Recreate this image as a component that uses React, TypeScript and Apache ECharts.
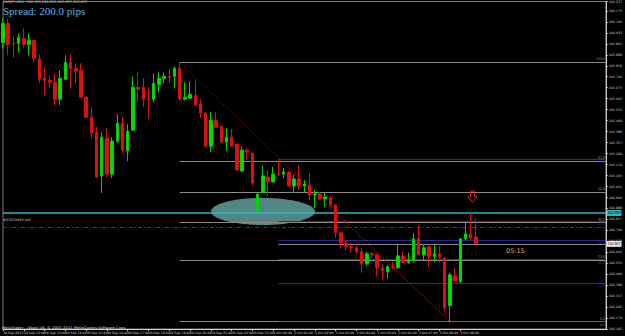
import React, { useEffect, useRef } from "react";
import * as echarts from "echarts";

const opens = [103.970,104.094,103.964,103.964,103.996,103.957,103.983,103.860,103.736,103.723,
103.710,103.600,103.730,103.840,103.801,103.788,103.613,103.483,103.385,103.099,
103.346,103.112,103.327,103.444,103.262,103.398,103.678,103.678,103.600,103.600,
103.697,103.736,103.749,103.749,103.801,103.600,103.606,103.626,103.567,103.509,
103.294,103.463,103.424,103.320,103.353,103.307,103.132,103.268,103.249,102.872,
102.989,103.093,103.060,103.112,103.112,103.125,103.034,103.080,103.034,103.041,
102.976,102.982,102.950,102.956,102.911,102.729,102.664,102.638,102.631,102.605,
102.527,102.592,102.586,102.501,102.475,102.508,102.501,102.579,102.534,102.547,
102.690,102.586,102.638,102.573,102.592,102.566,102.254,102.449,102.410,102.690,
102.722,102.703];

const closes = [104.094,103.957,103.960,104.003,103.957,103.983,103.866,103.730,103.723,103.710,
103.600,103.736,103.840,103.801,103.782,103.613,103.483,103.379,103.093,103.353,
103.112,103.327,103.444,103.268,103.392,103.678,103.665,103.600,103.596,103.704,
103.736,103.749,103.743,103.801,103.600,103.613,103.632,103.561,103.509,103.294,
103.463,103.418,103.320,103.353,103.294,103.138,103.268,103.255,103.054,102.982,
103.099,103.060,103.112,103.106,103.125,103.034,103.080,103.034,103.047,102.976,
102.982,102.950,102.963,102.911,102.729,102.664,102.638,102.631,102.605,102.527,
102.592,102.586,102.501,102.482,102.508,102.504,102.579,102.534,102.553,102.690,
102.586,102.631,102.573,102.592,102.573,102.241,102.456,102.417,102.690,102.722,
102.696,102.657];

const lows = [103.931,103.886,103.873,103.905,103.931,103.886,103.840,103.704,103.626,103.671,
103.561,103.561,103.723,103.671,103.704,103.613,103.476,103.346,103.086,102.989,
103.093,103.086,103.314,103.249,103.197,103.398,103.580,103.548,103.470,103.580,
103.645,103.704,103.704,103.671,103.600,103.593,103.600,103.561,103.476,103.281,
103.255,103.411,103.314,103.262,103.294,103.138,103.125,103.203,103.041,102.872,
102.989,102.969,103.060,103.106,103.086,103.028,102.989,103.008,102.995,102.943,
102.891,102.943,102.898,102.898,102.696,102.631,102.612,102.599,102.592,102.469,
102.514,102.566,102.449,102.423,102.430,102.488,102.495,102.534,102.527,102.534,
102.586,102.553,102.508,102.540,102.534,102.209,102.144,102.404,102.404,102.683,
102.683,102.657];

const highs = [104.126,104.126,104.009,104.029,104.061,104.029,103.983,103.892,103.808,103.756,
103.769,103.788,103.886,103.892,103.834,103.834,103.619,103.548,103.418,103.385,
103.411,103.353,103.502,103.483,103.437,103.749,103.775,103.736,103.678,103.769,
103.775,103.775,103.801,103.814,103.840,103.710,103.717,103.730,103.600,103.515,
103.515,103.515,103.424,103.411,103.405,103.307,103.294,103.281,103.249,102.982,
103.164,103.138,103.158,103.210,103.151,103.132,103.106,103.171,103.073,103.119,
103.008,102.995,102.989,102.969,102.911,102.735,102.683,102.664,102.644,102.631,
102.605,102.605,102.592,102.521,102.521,102.540,102.651,102.605,102.599,102.729,
102.781,102.651,102.644,102.651,102.644,102.566,102.469,102.501,102.696,102.794,
102.859,102.820];

const xLabels = ["30 Sep 2013","30 Sep 12:40","30 Sep 13:40","30 Sep 14:40","30 Sep 15:40",
"30 Sep 16:40","30 Sep 17:40","30 Sep 18:40","30 Sep 19:40","30 Sep 20:40","30 Sep 21:40",
"30 Sep 22:40","30 Sep 23:40","3 Oct 00:40","3 Oct 01:40","3 Oct 02:40","3 Oct 03:40",
"3 Oct 04:40","3 Oct 05:40","3 Oct 06:40","3 Oct 07:40","3 Oct 08:40","3 Oct 09:40"];

const SLOTS = 117; // bars + right chart shift
const fibRatios = [0, 23.6, 38.2, 50, 61.8, 100];
const fib1 = { start: 34, high: 103.840, low: 102.150 };
const fib2 = { start: 53, high: 103.210, low: 102.150 };
const tpLine = 102.858;     // cyan level
const orderLine = 102.768;  // red dash-dot order line
const bidPrice = 102.657;

const App: React.FC = () => {
  const ref = useRef<HTMLDivElement>(null);
  useEffect(() => {
    if (!ref.current) return;
    const chart = echarts.init(ref.current, null, { renderer: "svg" });
    const cats = Array.from({ length: SLOTS }, (_, i) => "c" + i);
    const candles = opens.map((o, i) => [o, closes[i], lows[i], highs[i]]);
    const labelOn = (i: number) => i % 4 === 0 && i / 4 < xLabels.length;
    const fibLines = (f: any, color: string, zeroColor: string, pos: string) =>
      fibRatios.map((r) => {
        const p = f.low + ((f.high - f.low) * r) / 100;
        return [
          {
            coord: [f.start, p],
            lineStyle: { color: r === 0 ? zeroColor : color, width: 1, type: "solid" },
            label: {
              show: true,
              position: pos,
              formatter: r.toFixed(1),
              color: r === 0 ? zeroColor : color,
              fontSize: 3.5,
              distance: 1,
            },
          },
          { coord: [SLOTS - 1, p] },
        ];
      });
    const markData: any[] = [
      ...fibLines(fib1, "#8c8c8c", "#8c8c8c", "insideEndTop"),
      ...fibLines(fib2, "#2c2c86", "#5c5cb8", "insideEndBottom"),
      [
        { coord: [fib1.start, fib1.high], lineStyle: { color: "#b01818", width: 1, type: [1, 2] }, label: { show: false } },
        { coord: [86, fib1.low] },
      ],
      [
        { coord: [fib2.start, fib2.high], lineStyle: { color: "#b01818", width: 1, type: [1, 2] }, label: { show: false } },
        { coord: [86, fib2.low] },
      ],
      [
        { coord: [0, orderLine], lineStyle: { color: "#a01818", width: 1, type: [4, 2, 1, 2] }, label: { show: false } },
        { coord: [SLOTS - 1, orderLine] },
      ],
      [
        {
          coord: [53, bidPrice],
          lineStyle: { color: "#8a8a96", width: 1, type: "solid" },
          label: {
            show: true, position: "end", formatter: bidPrice.toFixed(3), color: "#000",
            backgroundColor: "#e6e6e6", fontSize: 3.5, padding: [1, 1], distance: 1,
          },
        },
        { coord: [SLOTS - 1, bidPrice] },
      ],
      [
        {
          coord: [0, tpLine],
          lineStyle: { color: "#2fb6be", width: 1.6, type: "solid" },
          label: {
            show: true, position: "end", formatter: tpLine.toFixed(3), color: "#000",
            backgroundColor: "#2fb6be", fontSize: 3.5, padding: [1, 1], distance: 1,
          },
        },
        { coord: [SLOTS - 1, tpLine] },
      ],
    ];
    chart.setOption({
      animation: false,
      backgroundColor: "#000",
      grid: { left: 1, right: 13, top: 1, bottom: 7, show: true, borderColor: "#7a7a7a", borderWidth: 1 },
      xAxis: {
        type: "category",
        data: cats,
        boundaryGap: false,
        axisLine: { lineStyle: { color: "#d0d0d0", width: 1 } },
        axisTick: { show: true, interval: (i: number) => labelOn(i), length: 2, lineStyle: { color: "#d0d0d0" } },
        axisLabel: {
          interval: (i: number) => labelOn(i),
          formatter: (_v: string, i: number) => (labelOn(i) ? xLabels[i / 4] : ""),
          align: "left",
          margin: 2,
          fontSize: 3.2,
          color: "#d8d8d8",
          fontFamily: "DejaVu Sans",
        },
        splitLine: { show: false },
      },
      yAxis: {
        type: "value",
        position: "right",
        min: 102.102,
        max: 104.237,
        interval: 0.0715,
        axisLine: { show: true, lineStyle: { color: "#c8c8c8", width: 1 } },
        axisTick: { show: true, length: 2, lineStyle: { color: "#c8c8c8" } },
        axisLabel: {
          margin: 3,
          fontSize: 3.2,
          color: "#d8d8d8",
          fontFamily: "DejaVu Sans",
          formatter: (v: number) => v.toFixed(3),
        },
        splitLine: { show: false },
      },
      series: [
        {
          type: "line",
          data: [],
          z: 1,
          silent: true,
          markLine: { silent: true, symbol: ["none", "none"], animation: false, data: markData },
        },
        {
          type: "candlestick",
          data: candles,
          z: 5,
          barWidth: 3,
          itemStyle: {
            color: "#00e000",
            color0: "#e01010",
            borderColor: "#00d000",
            borderColor0: "#d81010",
            borderWidth: 1,
          },
        },
      ],
      graphic: [
        { type: "ellipse", z: 3, shape: { cx: 263, cy: 211.5, rx: 52, ry: 13.5 }, style: { fill: "rgba(115,185,185,0.72)" } },
        {
          type: "polygon", z: 10,
          shape: { points: [[470.5, 191], [474.5, 191], [474.5, 197], [477, 197], [472.5, 202.5], [468, 197], [470.5, 197]] },
          style: { fill: "none", stroke: "#d42020", lineWidth: 1 },
        },
        { type: "text", z: 10, left: 3, top: 0, style: { text: "EURJPY,M15  102.703 102.820 102.657 102.657", fill: "#c8c8c8", font: '3.5px "DejaVu Sans"' } },
        { type: "text", z: 10, left: 3, top: 5, style: { text: "Spread: 200.0 pips", fill: "#5ab4e8", font: '11px "Liberation Serif"' } },
        { type: "text", z: 10, left: 506, top: 247, style: { text: "05:15", fill: "#e8a040", font: '6.5px "DejaVu Sans"' } },
        { type: "text", z: 10, left: 3, top: 218, style: { text: "#62070993 sell", fill: "#c0c0c0", font: '3.5px "DejaVu Sans"' } },
        { type: "text", z: 10, left: 2, top: 325, style: { text: "MetaTrader - Alpari UK, © 2001-2011 MetaQuotes Software Corp.", fill: "#d0d0d0", font: '3.8px "DejaVu Sans"' } },
      ],
    });
    return () => chart.dispose();
  }, []);
  return (
    <div style={{ position: "fixed", left: 0, top: 0, width: 625, height: 336, background: "#000" }}>
      <div ref={ref} style={{ width: 625, height: 336 }} />
    </div>
  );
};

export default App;
